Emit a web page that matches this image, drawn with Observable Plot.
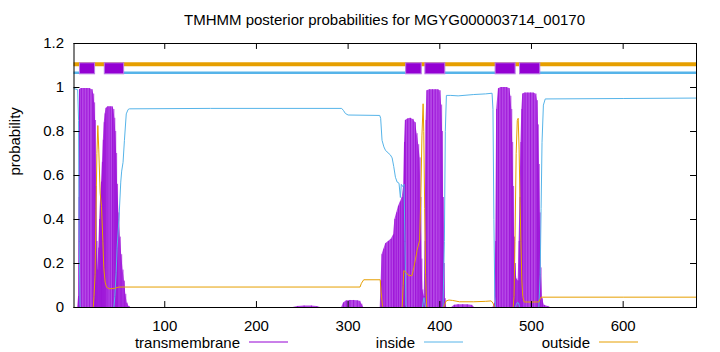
<!DOCTYPE html>
<html><head><meta charset="utf-8">
<script src="https://cdn.jsdelivr.net/npm/d3@7"></script>
<script src="https://cdn.jsdelivr.net/npm/@observablehq/plot@0.6"></script>
<style>
body{margin:0;background:#fff;font-family:"Liberation Sans",Arial,sans-serif;}
#wrap{width:720px;height:352px;position:relative;overflow:hidden;background:#fff}
#title{height:31px;box-sizing:border-box;padding-top:12px;padding-left:73px;padding-right:24px;text-align:center;font-size:15px;line-height:15px;white-space:nowrap}
#chart{position:absolute;left:0;top:31px}
#legend{position:absolute;left:0;top:334px;width:720px;height:17px;font-size:15px;line-height:17px}
#legend span{position:absolute;top:0;white-space:nowrap}
#legend svg{position:absolute;top:0}
</style></head><body><div id="wrap"><div id="title">TMHMM posterior probabilities for MGYG000003714_00170</div><div id="chart"></div><div id="legend"></div></div>
<script>
// residue, probability
const transmembrane = [[1,0],[5,0],[6,0.05],[6.5,0.5],[7,0.99],[9,0.995],[12,0.995],[15,0.995],[18,0.995],[21,0.99],[22.5,0.97],[23.5,0.93],[24.5,0.85],[25.3,0.55],[26.2,0.3],[27,0.17],[28,0.27],[29,0.4],[30,0.5],[31,0.57],[32,0.66],[33,0.76],[34,0.84],[35,0.88],[36,0.905],[38,0.912],[40.5,0.912],[43,0.912],[44.5,0.9],[45.5,0.86],[46.5,0.8],[47.5,0.7],[48.5,0.56],[50,0.43],[51.5,0.32],[53,0.24],[54.5,0.17],[56,0.12],[57.5,0.06],[59,0.02],[61,0.005],[63,0],
[240,0],[245,0.005],[252,0.007],[260,0.007],[266,0.004],[270,0],
[293,0],[295,0.02],[298,0.03],[302,0.032],[306,0.032],[310,0.031],[313,0.028],[315,0.015],[317,0],
[335,0],[336,0.12],[337,0.24],[339,0.265],[341,0.29],[344,0.3],[347,0.31],[349.5,0.33],[351,0.4],[353,0.43],[355,0.46],[357,0.48],[359,0.5],[360.5,0.55],[361.5,0.75],[362.5,0.85],[365,0.857],[368,0.86],[371,0.855],[373.5,0.84],[375.3,0.79],[377,0.74],[378.5,0.68],[379.5,0.5],[380.5,0.22],[381.5,0.08],[383,0.05],[384,0.3],[385,0.85],[386,0.985],[389,0.99],[392,0.99],[395,0.99],[398,0.99],[400.5,0.985],[402,0.92],[403,0.8],[404,0.5],[405,0.2],[406,0.04],[407.5,0],
[413,0],[416,0.01],[420,0.013],[425,0.013],[430,0.012],[435,0.01],[438,0],
[458,0],[460,0.02],[461,0.3],[462,0.9],[464,0.994],[467,1.0],[470,1.0],[473,1.0],[476,0.995],[477.5,0.96],[478.5,0.9],[479.5,0.75],[480.5,0.55],[481.5,0.32],[482.5,0.2],[484,0.13],[485.5,0.12],[486.5,0.3],[487.5,0.5],[488.5,0.75],[489.5,0.9],[490.5,0.97],[493,0.975],[496,0.975],[499,0.975],[502,0.975],[505,0.97],[506.5,0.94],[507.5,0.83],[508.5,0.65],[509.5,0.43],[510.5,0.18],[512,0.04],[514,0.01],[518,0.005],[521,0],[680,0]];

const inside = [[1,0.995],[5,0.99],[6,0.85],[6.7,0.3],[7.5,0.01],[8,0],[44.5,0],[45.5,0.05],[47,0.16],[48,0.27],[50,0.4],[52,0.57],[53,0.62],[54.5,0.66],[56,0.76],[58,0.88],[60,0.9],[61.5,0.903],[150,0.905],[293,0.905],[295,0.895],[297,0.882],[300,0.875],[334.5,0.873],[335.5,0.86],[337,0.76],[339,0.73],[340.7,0.715],[342.5,0.707],[346,0.694],[348,0.68],[349.8,0.64],[351.6,0.592],[353.5,0.57],[355.5,0.565],[357,0.5],[358,0.56],[359.5,0.55],[361,0.56],[362,0.3],[363,0.01],[364,0],[381,0],[382,0.03],[382.8,0.045],[383.7,0.02],[384.5,0],[403.5,0],[405,0.3],[406,0.8],[407.2,0.964],[412,0.964],[420,0.962],[437,0.968],[450,0.971],[457,0.974],[458,0.9],[459,0.4],[460,0.05],[461,0],[482.5,0],[483.5,0.015],[484.5,0.022],[486,0.02],[487,0],[508,0],[509.5,0.15],[510.5,0.45],[511.5,0.75],[513,0.92],[515,0.948],[600,0.95],[680,0.952]];

const outside = [[1,0],[22,0],[22.8,0.05],[24,0.15],[25,0.45],[26,0.7],[27,0.827],[28,0.72],[29.5,0.52],[31,0.46],[32.5,0.3],[33.5,0.18],[35,0.115],[36.5,0.092],[39.5,0.085],[45,0.087],[50,0.093],[313,0.093],[314.5,0.11],[317,0.126],[335,0.126],[336,0.07],[337.5,0.005],[338.5,0],[359,0],[360,0.1],[360.7,0.168],[363,0.16],[366,0.145],[369.7,0.145],[371.6,0.18],[373.5,0.22],[375.2,0.26],[378,0.305],[379.3,0.5],[380.5,0.78],[381.8,0.926],[382.5,0.8],[383.5,0.45],[384.5,0.15],[385.5,0.02],[386,0],[404,0],[405.5,0.015],[407,0.03],[410,0.034],[414,0.032],[421.5,0.026],[437,0.026],[450,0.028],[456,0.03],[458,0.02],[459.5,0.003],[460,0],[480,0],[481,0.05],[482,0.3],[483.3,0.7],[484.5,0.85],[485.5,0.86],[486.5,0.72],[487.5,0.48],[488.5,0.3],[489.5,0.12],[490.5,0.05],[492,0.025],[508,0.025],[509,0.035],[510.5,0.047],[600,0.047],[680,0.047]];

// topology segments (residue ranges)
const tmSegments = [[7.5,24],[34.6,55.7],[363.3,380.3],[384.3,406],[460.9,482.7],[487.5,509.6]];
const insideSegments = [[1,7.5],[55.7,363.3],[406,460.9],[509.6,680]];
const outsideSegments = [[1,680]];
const topLevels = {outside: 1.106, inside: 1.067, tmLow: 1.06, tmHigh: 1.11};

const xTicks = [100,200,300,400,500,600];
const yTicks = [0,0.2,0.4,0.6,0.8,1,1.2];
const xDomain = [1,680];

const legendNames = ["transmembrane","inside","outside"];
const colors = {tm: "#9400d3", tmFill: "#b548e6", inside: "#56b4e9", outside: "#e69f00"};
const legendColors = [colors.tm, colors.inside, colors.outside];

const X = d => d[0], Y = d => d[1];
const chart = Plot.plot({
  width: 720, height: 310,
  marginTop: 12, marginBottom: 34, marginLeft: 73.5, marginRight: 24,
  x: {domain: xDomain},
  y: {domain: [0, 1.2]},
  style: {fontFamily: "'Liberation Sans', Arial, sans-serif", fontSize: "15px", color: "#000", background: "transparent"},
  marks: [
    Plot.areaY(transmembrane, {x: X, y: Y, fill: colors.tmFill}),
    Plot.ruleX(transmembrane, {x: X, y1: 0, y2: Y, stroke: colors.tm, strokeWidth: 0.8, strokeOpacity: 0.85}),
    Plot.lineY(inside, {x: X, y: Y, stroke: colors.inside, strokeWidth: 1}),
    Plot.lineY(outside, {x: X, y: Y, stroke: colors.outside, strokeWidth: 1}),
    Plot.ruleY(outsideSegments, {y: topLevels.outside, x1: X, x2: Y, stroke: colors.outside, strokeWidth: 4}),
    Plot.ruleY(insideSegments, {y: topLevels.inside, x1: X, x2: Y, stroke: colors.inside, strokeWidth: 2.5}),
    Plot.rect(tmSegments, {x1: X, x2: Y, y1: topLevels.tmLow, y2: topLevels.tmHigh, fill: colors.tm, stroke: "#b97ae6", strokeWidth: 1}),
    Plot.frame({stroke: "#000"}),
    Plot.ruleX(xTicks, {x: d => d, y1: 0, y2: 0.027, stroke: "#000"}),
    Plot.ruleX(xTicks, {x: d => d, y1: 1.2, y2: 1.173, stroke: "#000"}),
    Plot.ruleY(yTicks, {y: d => d, x1: xDomain[0], x2: xDomain[0] + 6.5, stroke: "#000"}),
    Plot.ruleY(yTicks, {y: d => d, x1: xDomain[1], x2: xDomain[1] - 6.5, stroke: "#000"}),
    Plot.axisX(xTicks, {tickSize: 0, tickPadding: 13, tickFormat: d => String(d), label: null}),
    Plot.axisY(yTicks, {tickSize: 0, tickPadding: 10, tickFormat: d => String(d), label: null}),
    Plot.text(["probability"], {text: d => d, frameAnchor: "left", rotate: -90, dx: -59, fontSize: 15})
  ]
});
document.getElementById("chart").appendChild(chart);

const legend = document.getElementById("legend");
const NS = "http://www.w3.org/2000/svg";
legendNames.forEach((name, i) => {
  const s = document.createElement("span");
  s.textContent = name;
  s.style.right = (720 - (240 + 175 * i)) + "px";
  legend.appendChild(s);
  const svg = document.createElementNS(NS, "svg");
  svg.setAttribute("width", 39); svg.setAttribute("height", 17);
  svg.style.left = (249 + 175 * i) + "px";
  const ln = document.createElementNS(NS, "line");
  ln.setAttribute("x1", 0); ln.setAttribute("x2", 39);
  ln.setAttribute("y1", 8); ln.setAttribute("y2", 8);
  ln.setAttribute("stroke", legendColors[i]); ln.setAttribute("stroke-width", 1);
  svg.appendChild(ln);
  legend.appendChild(svg);
});
</script>
</body></html>
